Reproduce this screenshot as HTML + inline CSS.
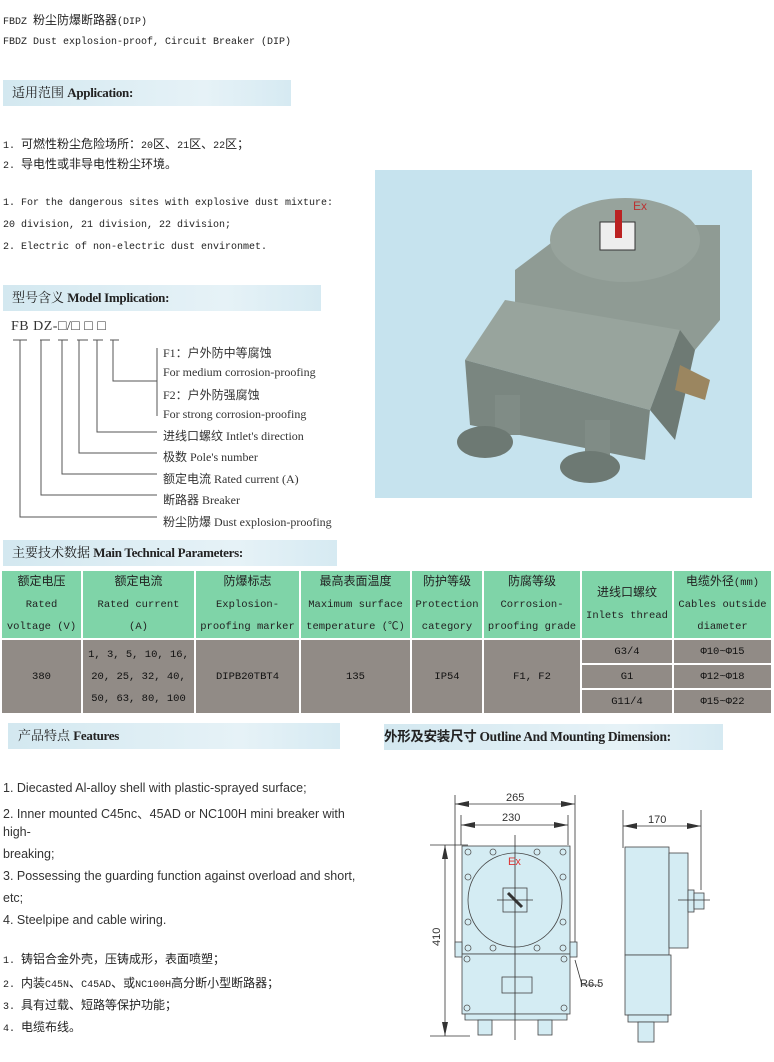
<!DOCTYPE html>
<html><head><meta charset="utf-8"><style>
body{margin:0;width:774px;height:1062px;background:#fff;position:relative;overflow:hidden;font-family:"Liberation Mono","Noto Sans CJK SC",monospace;color:#222}
.a{position:absolute;white-space:nowrap}
.m{font-size:10px}
.m i,td i{font-style:normal;font-size:12px}
.bar{position:absolute;height:26px;background:linear-gradient(90deg,#d3e8f0,#e6f2f7 70%,#d6eaf2);font-family:"Liberation Serif","Noto Serif CJK SC",serif;font-size:13px;line-height:26px;color:#222}
.bar b{font-weight:bold;letter-spacing:-0.3px}
.s{font-family:"Liberation Serif","Noto Sans CJK SC",serif;font-size:12px;color:#333}
.f{font-family:"Liberation Sans",sans-serif;font-size:12.5px;color:#333}
table{position:absolute;left:0;top:569px;border-collapse:collapse;font-family:"Liberation Mono","Noto Sans CJK SC",monospace;font-size:10.5px;text-align:center}
td{border:2px solid #fff;padding:0;line-height:22px}
.h td{background:#7fd4a8;height:64px}
.d{background:#918b86;color:#111}
</style></head><body>
<div class="a m" style="left:3px;top:11px">FBDZ <i>粉尘防爆断路器</i>(DIP)</div>
<div class="a m" style="left:3px;top:37px">FBDZ Dust explosion-proof, Circuit Breaker (DIP)</div>

<div class="bar" style="left:3px;top:80px;width:288px"><span style="padding-left:9px">适用范围</span> <b>Application:</b></div>
<div class="a m" style="left:3px;top:135px">1. <i>可燃性粉尘危险场所：</i>20<i>区、</i>21<i>区、</i>22<i>区；</i></div>
<div class="a m" style="left:3px;top:155px">2. <i>导电性或非导电性粉尘环境。</i></div>
<div class="a m" style="left:3px;top:198px">1. For the dangerous sites with explosive dust mixture:</div>
<div class="a m" style="left:3px;top:220px">20 division, 21 division, 22 division;</div>
<div class="a m" style="left:3px;top:242px">2. Electric of non-electric dust environmet.</div>

<svg class="a" style="left:375px;top:170px" width="377" height="328" viewBox="0 0 377 328">
<rect width="377" height="328" fill="#c6e3ee"/>
<polygon points="140,100 200,55 345,55 345,150 320,180 140,135" fill="#8f9b94"/>
<ellipse cx="250" cy="70" rx="75" ry="42" fill="#97a39c"/>
<rect x="225" y="52" width="35" height="28" fill="#eee" stroke="#333"/>
<rect x="240" y="40" width="7" height="28" fill="#b22"/>
<text x="258" y="40" fill="#b33" font-size="12" font-family="Liberation Sans">Ex</text>
<polygon points="90,190 130,130 305,160 275,240" fill="#98a49d"/>
<polygon points="90,190 275,240 270,290 95,255" fill="#7a8680"/>
<polygon points="275,240 305,160 320,180 300,270" fill="#6e7a74"/>
<polygon points="305,195 335,210 330,230 300,220" fill="#9b8660"/>
<rect x="120" y="225" width="25" height="40" fill="#808c86"/>
<rect x="210" y="250" width="25" height="40" fill="#808c86"/>
<ellipse cx="110" cy="272" rx="28" ry="16" fill="#6d7973"/>
<ellipse cx="215" cy="297" rx="30" ry="16" fill="#6d7973"/>
</svg>

<div class="bar" style="left:3px;top:285px;width:318px"><span style="padding-left:9px">型号含义</span> <b>Model Implication:</b></div>
<div class="a s" style="left:11px;top:319px;font-size:14px;letter-spacing:0.5px">FB DZ-□/□ □ □</div>
<svg class="a" style="left:0;top:330px" width="170" height="200">
<g stroke="#555" fill="none" stroke-width="1">
<path d="M13 10H27M40 10H50M58 10H68M77 10H88M93 10H103M110 10H119"/>
<path d="M20 10V187H157M41 10V165H157M62 10V144H157M79 10V123H157M97 10V102H157M113 10V51H157M157 18V86"/>
</g></svg>
<div class="a s" style="left:163px;top:344px">F1：户外防中等腐蚀</div>
<div class="a s" style="left:163px;top:365px">For medium corrosion-proofing</div>
<div class="a s" style="left:163px;top:386px">F2：户外防强腐蚀</div>
<div class="a s" style="left:163px;top:407px">For strong corrosion-proofing</div>
<div class="a s" style="left:163px;top:427px">进线口螺纹 Intlet's direction</div>
<div class="a s" style="left:163px;top:448px">极数 Pole's number</div>
<div class="a s" style="left:163px;top:470px">额定电流 Rated current (A)</div>
<div class="a s" style="left:163px;top:491px">断路器 Breaker</div>
<div class="a s" style="left:163px;top:513px">粉尘防爆 Dust explosion-proofing</div>

<div class="bar" style="left:3px;top:540px;width:334px"><span style="padding-left:9px">主要技术数据</span> <b>Main Technical Parameters:</b></div>
<table>
<tr class="h"><td style="width:79px"><i>额定电压</i><br>Rated<br>voltage (V)</td><td style="width:111px"><i>额定电流</i><br>Rated current<br>(A)</td><td style="width:103px"><i>防爆标志</i><br>Explosion-<br>proofing marker</td><td style="width:109px"><i>最高表面温度</i><br>Maximum surface<br>temperature (℃)</td><td style="width:70px"><i>防护等级</i><br>Protection<br>category</td><td style="width:96px"><i>防腐等级</i><br>Corrosion-<br>proofing grade</td><td style="width:90px"><i>进线口螺纹</i><br>Inlets thread</td><td style="width:97px"><i>电缆外径</i>(mm)<br>Cables outside<br>diameter</td></tr>
<tr><td class="d" rowspan="3">380</td><td class="d" rowspan="3">1, 3, 5, 10, 16,<br>20, 25, 32, 40,<br>50, 63, 80, 100</td><td class="d" rowspan="3">DIPB20TBT4</td><td class="d" rowspan="3">135</td><td class="d" rowspan="3">IP54</td><td class="d" rowspan="3">F1, F2</td><td class="d" style="height:23px">G3/4</td><td class="d">Φ10~Φ15</td></tr>
<tr><td class="d" style="height:23px">G1</td><td class="d">Φ12~Φ18</td></tr>
<tr><td class="d" style="height:23px">G11/4</td><td class="d">Φ15~Φ22</td></tr>
</table>

<div class="bar" style="left:8px;top:723px;width:332px"><span style="padding-left:10px">产品特点</span> <b>Features</b></div>
<div class="bar" style="left:384px;top:724px;width:339px;font-size:13.5px"><b style="font-family:'Liberation Serif','Noto Sans CJK SC',serif">外形及安装尺寸 Outline And Mounting Dimension:</b></div>

<div class="a f" style="left:3px;top:781px">1. Diecasted Al-alloy shell with plastic-sprayed surface;</div>
<div class="a f" style="left:3px;top:803px">2. Inner mounted C45nc、45AD or NC100H mini breaker with</div>
<div class="a f" style="left:3px;top:825px">high-</div>
<div class="a f" style="left:3px;top:847px">breaking;</div>
<div class="a f" style="left:3px;top:869px">3. Possessing the guarding function against overload and short,</div>
<div class="a f" style="left:3px;top:891px">etc;</div>
<div class="a f" style="left:3px;top:913px">4. Steelpipe and cable wiring.</div>
<div class="a m" style="left:3px;top:950px">1. <i>铸铝合金外壳，压铸成形，表面喷塑；</i></div>
<div class="a m" style="left:3px;top:974px">2. <i>内装</i>C45N<i>、</i>C45AD<i>、或</i>NC100H<i>高分断小型断路器；</i></div>
<div class="a m" style="left:3px;top:996px">3. <i>具有过载、短路等保护功能；</i></div>
<div class="a m" style="left:3px;top:1018px">4. <i>电缆布线。</i></div>

<svg class="a" style="left:0;top:0" width="774" height="1062">
<g font-family="Liberation Sans" font-size="11" fill="#333">
<text x="506" y="801">265</text><text x="502" y="821">230</text><text x="648" y="823">170</text>
<text x="580" y="987">R6.5</text>
<text transform="translate(440,946) rotate(-90)">410</text>
</g>
<g stroke="#333" fill="none" stroke-width="0.8">
<path d="M455 795V950M575 795V950M461 815V845M568 815V845M455 804H575M461 825H568M430 845H468M430 1036H470M445 845V1036M623 810V848M701 810V890M623 826H701"/>
<path d="M575 960L582 985H600"/>
</g>
<g fill="#333"><path d="M455 804l14-3v6zM575 804l-14-3v6zM461 825l14-3v6zM568 825l-14-3v6zM623 826l14-3v6zM701 826l-14-3v6zM445 845l-3 14h6zM445 1036l-3-14h6z"/></g>
<g stroke="#444" fill="#d4ecf3" stroke-width="0.8">
<rect x="462" y="846" width="108" height="108"/>
<rect x="462" y="954" width="108" height="60"/>
<path d="M465 1014h102v6h-102z"/>
<rect x="478" y="1020" width="14" height="15"/><rect x="538" y="1020" width="14" height="15"/>
<circle cx="515" cy="900" r="47"/>
<rect x="503" y="888" width="24" height="24"/>
<rect x="502" y="977" width="30" height="16"/>
<rect x="455" y="942" width="7" height="15"/><rect x="570" y="942" width="7" height="15"/>
<rect x="625" y="847" width="44" height="108"/>
<rect x="669" y="853" width="19" height="95"/>
<rect x="688" y="890" width="6" height="22"/><rect x="694" y="893" width="10" height="16"/>
<rect x="625" y="955" width="46" height="60"/>
<rect x="628" y="1015" width="40" height="7"/>
<rect x="638" y="1022" width="16" height="20"/>
</g>
<path d="M515 835V1040M497 900H533M678 900H710" stroke="#333" stroke-width="0.8"/>
<path d="M508 893l14 14" stroke="#333" stroke-width="3"/>
<text x="508" y="865" fill="#d33" font-family="Liberation Sans" font-size="11">Ex</text>
<g stroke="#555" fill="none" stroke-width="0.8">
<circle cx="468" cy="852" r="3"/><circle cx="493" cy="852" r="3"/><circle cx="537" cy="852" r="3"/><circle cx="563" cy="852" r="3"/>
<circle cx="468" cy="877" r="3"/><circle cx="563" cy="877" r="3"/><circle cx="468" cy="922" r="3"/><circle cx="563" cy="922" r="3"/>
<circle cx="468" cy="948" r="3"/><circle cx="493" cy="948" r="3"/><circle cx="537" cy="948" r="3"/><circle cx="563" cy="948" r="3"/>
<circle cx="467" cy="959" r="3"/><circle cx="564" cy="959" r="3"/><circle cx="467" cy="1008" r="3"/><circle cx="564" cy="1008" r="3"/>
</g>
</svg>
</body></html>
